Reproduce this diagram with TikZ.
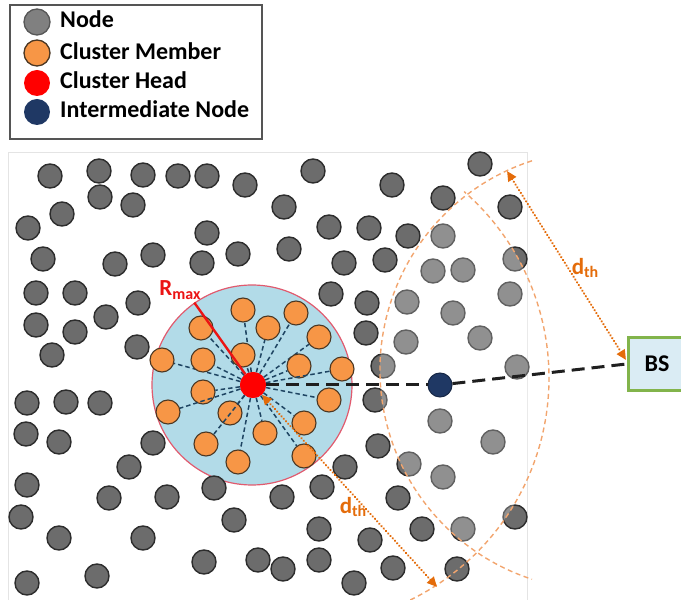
\documentclass[tikz,border=0pt]{standalone}
\usepackage{fontspec}
\setmainfont{Carlito}
\usetikzlibrary{arrows.meta}
\definecolor{nodegray}{RGB}{108,108,108}
\definecolor{nodeedge}{RGB}{45,45,45}
\definecolor{legray}{RGB}{128,128,128}
\definecolor{orfill}{RGB}{247,150,70}
\definecolor{oredge}{RGB}{75,55,35}
\definecolor{navyc}{RGB}{31,56,100}
\definecolor{clfill}{RGB}{178,219,232}
\definecolor{cledge}{RGB}{225,90,110}
\definecolor{memline}{RGB}{30,68,98}
\definecolor{arcc}{RGB}{242,165,110}
\definecolor{dthc}{RGB}{228,108,10}
\definecolor{bsedge}{RGB}{130,180,75}
\definecolor{bsfill}{RGB}{218,236,244}
\definecolor{lgborder}{RGB}{85,85,85}
\definecolor{fieldc}{RGB}{228,228,228}
\definecolor{rmaxc}{RGB}{235,20,20}
\tikzset{
  gnode/.style={circle, minimum size=24pt, inner sep=0pt, fill=nodegray, draw=nodeedge, line width=1.4pt},
  cmem/.style={circle, minimum size=24pt, inner sep=0pt, fill=orfill, draw=oredge, line width=1.1pt},
  chnode/.style={circle, minimum size=26pt, inner sep=0pt, fill=red},
  innode/.style={circle, minimum size=24pt, inner sep=0pt, fill=navyc, draw=navyc!70!black, line width=1pt},
  legtext/.style={anchor=base west, inner sep=0pt, font=\bfseries\fontsize{24}{24}\selectfont},
  memlink/.style={draw=memline, line width=1.5pt, dash pattern=on 4.5pt off 3pt},
  arcst/.style={draw=arcc, line width=1.4pt, dash pattern=on 5pt off 3.5pt},
  dtharrow/.style={draw=dthc, line width=2.4pt, line cap=round, dash pattern=on 0.1pt off 3.2pt,
     {Triangle[length=10pt,width=9pt,fill=dthc]}-{Triangle[length=10pt,width=9pt,fill=dthc]}},
  dthlabel/.style={text=dthc, font=\bfseries\fontsize{23}{23}\selectfont, inner sep=1pt},
  bslink/.style={draw=black!88, line width=3pt, dash pattern=on 13pt off 7pt}
}
\begin{document}
\begin{tikzpicture}[x=1pt,y=1pt]
\useasboundingbox (0,0) rectangle (681,600);
\begin{scope}
\clip (0,0) rectangle (681,600);
% field
\draw[fieldc, line width=1pt] (8,-5) rectangle (527,447);
% cluster disk
\node[circle, minimum size=200pt, inner sep=0pt, fill=clfill, draw=cledge, line width=1.2pt] (cl) at (252,215) {};
% ordinary nodes
\foreach \x/\y [count=\i] in {50/176,99/171,143/175,178/176,207/176,245/185,313/171,100/197,133/205,62/214,
  28/228,284/207,207/233,329/227,43/259,115/264,153/255,202/263,238/254,289/249,344/263,36/293,75/293,
  138/303,106/317,331/294,36/325,75/332,52/355,137/347,
  480/164,392/185,443/198,510/207,369/228,408/236,443/236,385/260,433/271,463/270,515/259,
  367/303,407/302,453/313,510/294,366/333,406/342,480/338,383/366,517/367,
  375/400,440/421,493/442,378/446,345/467,409/464,443/477,398/498,515/517,422/529,463/529,370/540,
  393/568,457/569,354/583,
  27/403,66/402,100/403,26/434,59/442,153/443,129/467,27/485,109/498,167/497,214/488,282/497,322/487,
  21/517,59/538,143/538,234/520,319/529,204/562,258/560,283/569,319/560,27/583,97/576}
  \node[gnode] (g\i) at (\x,{600-\y}) {};
% lens overlay
\begin{scope}
\clip (600,230) circle (220pt);
\fill[white, opacity=0.25] (302,222) circle (247pt);
\end{scope}
% dth arcs
\draw[arcst] (600,230) ++(108:220) arc[start angle=108, end angle=252, radius=220];
\draw[arcst] (302,222) ++(-64:247) arc[start angle=-64, end angle=49, radius=247];
% cluster head
\node[chnode] (CH) at (253,215) {};
% members
\foreach \x/\y [count=\i] in {243/310,296/313,201/328,268/328,319/337,162/360,203/360,243/355,299/366,342/369,
  203/392,329/400,168/412,230/413,304/423,265/433,206/444,304/456,238/462}
  {\node[cmem] (m\i) at (\x,{600-\y}) {};
   \draw[memlink] (CH) -- (m\i);}
\node[chnode] at (CH) {};
% R max
\draw[rmaxc, line width=2.4pt] (CH) -- (cl.125);
\node[text=rmaxc, font=\bfseries\fontsize{23}{23}\selectfont, inner sep=0pt] (rmax) at (180,310)
  {R\raisebox{-0.35ex}{\fontsize{16}{16}\selectfont max}};
% intermediate and BS
\node[innode] (IN) at (440,215) {};
\node[draw=bsedge, fill=bsfill, line width=3pt, minimum width=58pt, minimum height=53pt, inner sep=0pt,
  font=\bfseries\fontsize{24}{24}\selectfont] (BS) at (657,236) {BS};
\draw[bslink] (CH) -- (IN);
\draw[bslink] (IN) -- (BS.west);
% dth arrows
\coordinate (dA) at (507,429);
\coordinate (dB) at (626,240);
\coordinate (dC) at (437,13);
\draw[dtharrow] (dA) -- (dB);
\draw[dtharrow] (CH) -- (dC);
\node[dthlabel] (dth1) at (585,332) {d\raisebox{-0.35ex}{\fontsize{16}{16}\selectfont th}};
\node[dthlabel] (dth2) at (353,93) {d\raisebox{-0.35ex}{\fontsize{16}{16}\selectfont th}};
% legend
\draw[lgborder, line width=2pt, fill=white] (10,461) rectangle (262,595);
\node[circle, minimum size=26pt, inner sep=0pt, fill=legray, draw=nodeedge!80, line width=1.3pt] (l1) at (37,578) {};
\node[circle, minimum size=26pt, inner sep=0pt, fill=orfill, draw=oredge, line width=1.3pt] (l2) at (37,547) {};
\node[circle, minimum size=26pt, inner sep=0pt, fill=red] (l3) at (37,517) {};
\node[circle, minimum size=26pt, inner sep=0pt, fill=navyc] (l4) at (37,488) {};
\node[legtext] (t1) at (60,572) {Node};
\node[legtext] (t2) at (60,540) {Cluster Member};
\node[legtext] (t3) at (60,511) {Cluster Head};
\node[legtext] (t4) at (60,482) {Intermediate Node};
\end{scope}
\end{tikzpicture}
\end{document}
